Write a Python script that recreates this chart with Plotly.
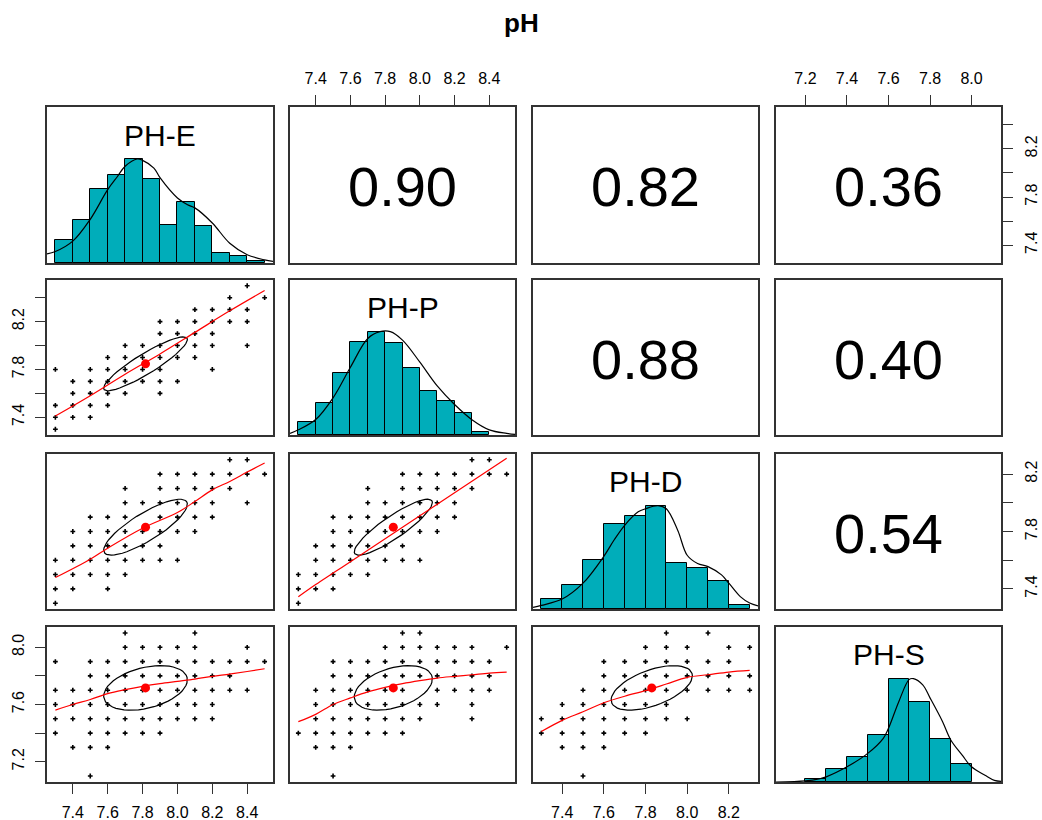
import numpy as np
import plotly.graph_objects as go

# ---------------- data ----------------
names = ["PH-E", "PH-P", "PH-D", "PH-S"]
corr_pairs = [(0, 1), (0, 2), (0, 3), (1, 2), (1, 3), (2, 3)]
corr_vals = [0.90, 0.82, 0.36, 0.88, 0.40, 0.54]
means = [7.817, 7.847, 7.830, 7.716]
sds = [0.240, 0.225, 0.195, 0.156]
ranges = [[7.252, 8.548], [7.252, 8.548], [7.26, 8.34], [7.058, 8.142]]

# histogram bins (left edges, width 0.1) and heights relative to tallest bar
hist_E_left = [7.3, 7.4, 7.5, 7.6, 7.7, 7.8, 7.9, 8.0, 8.1, 8.2, 8.3, 8.4]
hist_E_rel = [0.22, 0.41, 0.71, 0.85, 1.0, 0.81, 0.37, 0.59, 0.36, 0.10, 0.07, 0.02]
hist_P_left = [7.3, 7.4, 7.5, 7.6, 7.7, 7.8, 7.9, 8.0, 8.1, 8.2, 8.3]
hist_P_rel = [0.125, 0.31, 0.60, 0.90, 1.0, 0.895, 0.645, 0.425, 0.33, 0.21, 0.03]
hist_D_left = [7.3, 7.4, 7.5, 7.6, 7.7, 7.8, 7.9, 8.0, 8.1, 8.2]
hist_D_rel = [0.10, 0.23, 0.47, 0.82, 0.90, 1.0, 0.45, 0.40, 0.27, 0.04]
hist_S_left = [7.2, 7.3, 7.4, 7.5, 7.6, 7.7, 7.8, 7.9]
hist_S_rel = [0.026, 0.13, 0.244, 0.456, 1.0, 0.772, 0.414, 0.173]

# density curves (scaled to max 1)
dens_E_x = [7.252, 7.3, 7.4, 7.5, 7.6, 7.654, 7.7, 7.769, 7.8, 7.865, 7.9, 8.0, 8.058, 8.1, 8.2, 8.3, 8.4, 8.5, 8.548]
dens_E_y = [0.087, 0.11, 0.21, 0.42, 0.705, 0.827, 0.93, 1.0, 0.987, 0.913, 0.82, 0.625, 0.56, 0.53, 0.385, 0.19, 0.08, 0.03, 0.016]
dens_P_x = [7.252, 7.3, 7.4, 7.5, 7.6, 7.7, 7.77, 7.83, 7.9, 8.0, 8.1, 8.2, 8.3, 8.4, 8.5, 8.548]
dens_P_y = [0.016, 0.05, 0.15, 0.36, 0.656, 0.934, 1.0, 1.0, 0.918, 0.705, 0.475, 0.295, 0.148, 0.05, 0.016, 0.007]
dens_D_x = [7.26, 7.3, 7.4, 7.5, 7.6, 7.65, 7.7, 7.765, 7.8, 7.86, 7.9, 7.955, 8.0, 8.05, 8.1, 8.165, 8.2, 8.255, 8.3, 8.34]
dens_D_y = [0.016, 0.035, 0.096, 0.25, 0.51, 0.67, 0.81, 0.94, 0.97, 1.0, 0.97, 0.76, 0.52, 0.44, 0.41, 0.33, 0.25, 0.12, 0.058, 0.03]
dens_S_x = [7.058, 7.2, 7.27, 7.3, 7.4, 7.5, 7.575, 7.6, 7.65, 7.7, 7.72, 7.765, 7.8, 7.86, 7.9, 7.955, 8.0, 8.065, 8.11, 8.142]
dens_S_y = [0.0, 0.01, 0.033, 0.05, 0.147, 0.277, 0.423, 0.52, 0.78, 0.993, 1.0, 0.94, 0.814, 0.586, 0.407, 0.26, 0.147, 0.065, 0.016, 0.007]

# scatter points: {y value: [x values]}
pts_E_P = {8.5: [8.4], 8.4: [8.3, 8.5], 8.3: [8.1, 8.2, 8.3, 8.4],
           8.2: [7.9, 8.0, 8.1, 8.2, 8.3, 8.4], 8.1: [7.9, 8.0, 8.1, 8.2],
           8.0: [7.7, 7.8, 7.9, 8.0, 8.1, 8.2, 8.4], 7.9: [7.6, 7.7, 7.8, 7.9, 8.0, 8.1],
           7.8: [7.3, 7.5, 7.6, 7.7, 7.8, 7.9, 8.2], 7.7: [7.4, 7.5, 7.6, 7.7, 7.8, 7.9, 8.0],
           7.6: [7.4, 7.5, 7.6, 7.7, 7.9], 7.5: [7.3, 7.4, 7.5, 7.6], 7.4: [7.3, 7.4, 7.5], 7.3: [7.3]}
pts_E_D = {8.3: [8.3, 8.4], 8.2: [7.9, 8.0, 8.1, 8.2, 8.3, 8.4, 8.5],
           8.1: [7.7, 7.9, 8.0, 8.1, 8.2, 8.3], 8.0: [7.7, 7.8, 7.9, 8.0, 8.1, 8.2, 8.4],
           7.9: [7.5, 7.6, 7.7, 7.9, 8.0, 8.1, 8.2], 7.8: [7.4, 7.5, 7.6, 7.7, 7.8, 7.9, 8.0, 8.1],
           7.7: [7.4, 7.5, 7.6, 7.7, 7.8, 7.9], 7.6: [7.3, 7.4, 7.5, 7.6, 7.7, 7.8, 7.9, 8.0],
           7.5: [7.3, 7.4, 7.5, 7.6, 7.7], 7.4: [7.3, 7.4, 7.6], 7.3: [7.3]}
pts_E_S = {8.1: [7.7, 8.1], 8.0: [7.7, 7.8, 7.9, 8.0, 8.1, 8.4],
           7.9: [7.3, 7.5, 7.6, 7.7, 7.8, 7.9, 8.0, 8.1, 8.2, 8.3, 8.4, 8.5],
           7.8: [7.5, 7.6, 7.7, 7.8, 7.9, 8.0, 8.1, 8.2, 8.3],
           7.7: [7.3, 7.4, 7.5, 7.6, 7.7, 7.8, 7.9, 8.0, 8.1, 8.2, 8.3, 8.4],
           7.6: [7.3, 7.4, 7.5, 7.6, 7.7, 7.8, 7.9, 8.0, 8.1, 8.2],
           7.5: [7.3, 7.4, 7.5, 7.6, 7.7, 7.8, 7.9, 8.0, 8.1, 8.2],
           7.4: [7.3, 7.5, 7.6, 7.7, 7.8, 7.9], 7.3: [7.4, 7.5, 7.6], 7.1: [7.5]}
pts_P_D = {8.3: [8.3, 8.4], 8.2: [7.9, 8.0, 8.1, 8.2, 8.3, 8.4, 8.5],
           8.1: [7.7, 7.9, 8.0, 8.1, 8.2, 8.3], 8.0: [7.7, 7.8, 7.9, 8.0, 8.1, 8.2],
           7.9: [7.5, 7.6, 7.7, 7.8, 7.9, 8.0, 8.1, 8.2], 7.8: [7.5, 7.6, 7.7, 7.8, 7.9, 8.0, 8.1],
           7.7: [7.4, 7.5, 7.6, 7.7, 7.8, 7.9], 7.6: [7.4, 7.5, 7.6, 7.7, 7.8, 7.9, 8.0],
           7.5: [7.3, 7.4, 7.5, 7.6, 7.7], 7.4: [7.3, 7.4, 7.5], 7.3: [7.3]}
pts_P_S = {8.1: [7.9, 8.0], 8.0: [7.8, 7.9, 8.0, 8.1, 8.2, 8.3, 8.5],
           7.9: [7.5, 7.6, 7.7, 7.8, 7.9, 8.0, 8.1, 8.2, 8.3, 8.4],
           7.8: [7.5, 7.6, 7.7, 7.8, 7.9, 8.0, 8.1, 8.2, 8.3, 8.4],
           7.7: [7.4, 7.5, 7.6, 7.7, 7.8, 7.9, 8.1, 8.2, 8.3, 8.4],
           7.6: [7.4, 7.5, 7.6, 7.7, 7.8, 7.9, 8.0, 8.1, 8.3],
           7.5: [7.4, 7.5, 7.6, 7.7, 7.8, 7.9, 8.0, 8.3],
           7.4: [7.3, 7.4, 7.5, 7.6, 7.7, 7.8, 7.9], 7.3: [7.4, 7.5, 7.6], 7.1: [7.5]}
pts_D_S = {8.1: [7.9, 8.1], 8.0: [7.8, 7.9, 8.0, 8.2, 8.3],
           7.9: [7.6, 7.7, 7.8, 7.9, 8.0, 8.1, 8.2],
           7.8: [7.6, 7.7, 7.8, 7.9, 8.0, 8.1, 8.2, 8.3],
           7.7: [7.5, 7.6, 7.7, 7.8, 7.9, 8.0, 8.1, 8.2, 8.3],
           7.6: [7.4, 7.5, 7.6, 7.7, 7.8, 7.9],
           7.5: [7.3, 7.4, 7.5, 7.6, 7.7, 7.8, 7.9, 8.0],
           7.4: [7.3, 7.4, 7.5, 7.6, 7.7, 7.8], 7.3: [7.4, 7.5, 7.6], 7.1: [7.5]}

# loess smooths
loess_E_x = [7.3, 7.5, 7.7, 7.9, 8.1, 8.3, 8.5]
loess_E_P = [7.41, 7.58, 7.76, 7.93, 8.11, 8.29, 8.46]
loess_E_x2 = [7.3, 7.5, 7.6, 7.8, 8.0, 8.1, 8.2, 8.3, 8.4, 8.5]
loess_E_D = [7.479, 7.607, 7.684, 7.823, 7.932, 8.009, 8.09, 8.149, 8.214, 8.277]
loess_E_x3 = [7.3, 7.4, 7.5, 7.6, 7.7, 7.8, 7.9, 8.0, 8.1, 8.2, 8.3, 8.4, 8.5]
loess_E_S = [7.561, 7.6, 7.635, 7.676, 7.704, 7.727, 7.746, 7.762, 7.778, 7.797, 7.813, 7.831, 7.85]
loess_P_x = [7.3, 7.4, 7.5, 7.6, 7.7, 7.8, 7.9, 8.0, 8.1, 8.2, 8.3, 8.4, 8.5]
loess_P_D = [7.345, 7.43, 7.51, 7.59, 7.67, 7.75, 7.83, 7.91, 7.99, 8.07, 8.15, 8.23, 8.31]
loess_P_S = [7.48, 7.531, 7.6, 7.646, 7.688, 7.72, 7.746, 7.767, 7.785, 7.797, 7.808, 7.82, 7.827]
loess_D_x = [7.3, 7.4, 7.5, 7.6, 7.7, 7.8, 7.9, 8.0, 8.1, 8.2, 8.3]
loess_D_S = [7.411, 7.489, 7.549, 7.612, 7.658, 7.697, 7.743, 7.79, 7.808, 7.827, 7.838]

# tick labels
x_ticks_78 = ["7.4", "7.6", "7.8", "8.0", "8.2", "8.4"]
x_ticks_D = ["7.4", "7.6", "7.8", "8.0", "8.2"]
x_ticks_S = ["7.2", "7.4", "7.6", "7.8", "8.0"]
y_ticks_EP = ["7.4", "", "7.8", "", "8.2", ""]
y_ticks_D = ["7.4", "", "7.8", "", "8.2"]
y_ticks_S = ["7.2", "", "7.6", "", "8.0"]

# ---------------- figure ----------------
W, H = 1042, 820
FONT = "Liberation Sans, Arial, sans-serif"
HIST_COL = "#00ADBA"
BOX_COL = "#333333"
col_px = [(47, 273), (290, 515), (533, 758), (776, 1001)]
row_px = [(107, 263), (280, 435), (454, 609), (627, 782)]

hists = [(hist_E_left, hist_E_rel), (hist_P_left, hist_P_rel),
         (hist_D_left, hist_D_rel), (hist_S_left, hist_S_rel)]
dens = [(dens_E_x, dens_E_y), (dens_P_x, dens_P_y), (dens_D_x, dens_D_y), (dens_S_x, dens_S_y)]
scat = {(1, 0): (pts_E_P, loess_E_x, loess_E_P), (2, 0): (pts_E_D, loess_E_x2, loess_E_D),
        (3, 0): (pts_E_S, loess_E_x3, loess_E_S), (2, 1): (pts_P_D, loess_P_x, loess_P_D),
        (3, 1): (pts_P_S, loess_P_x, loess_P_S), (3, 2): (pts_D_S, loess_D_x, loess_D_S)}
corr = dict(zip(corr_pairs, corr_vals))

fig = go.Figure()
layout = {}
annotations = []


def refs(k):
    return ("x" if k == 1 else f"x{k}"), ("y" if k == 1 else f"y{k}")


for i in range(4):
    for j in range(4):
        k = i * 4 + j + 1
        xr, yr = refs(k)
        xa = "xaxis" if k == 1 else f"xaxis{k}"
        ya = "yaxis" if k == 1 else f"yaxis{k}"
        c0, c1 = col_px[j]
        r0, r1 = row_px[i]
        base = dict(showline=True, mirror=True, linecolor=BOX_COL, linewidth=1.6,
                    showgrid=False, zeroline=False, showticklabels=False, ticks="",
                    fixedrange=True, tickfont=dict(family=FONT, size=16, color="black"),
                    ticklen=10, tickcolor=BOX_COL, tickwidth=1.4, ticklabelstandoff=5)
        layout[xa] = dict(base, domain=[c0 / W, c1 / W], range=ranges[j], anchor=yr)
        layout[ya] = dict(base, domain=[1 - r1 / H, 1 - r0 / H],
                          range=[0, 1.5] if i == j else ranges[i], anchor=xr)

        if i == j:
            left, rel = hists[i]
            fig.add_trace(go.Bar(x=[v + 0.05 for v in left], y=rel, width=0.1,
                                 marker=dict(color=HIST_COL, line=dict(color="black", width=1)),
                                 xaxis=xr, yaxis=yr, showlegend=False, hoverinfo="skip"))
            dx, dy = dens[i]
            fig.add_trace(go.Scatter(x=dx, y=dy, mode="lines", line=dict(color="black", width=1.2, shape="spline"),
                                     xaxis=xr, yaxis=yr, showlegend=False, hoverinfo="skip"))
            annotations.append(dict(x=sum(ranges[i]) / 2, y=1.23, xref=xr, yref=yr, text=names[i],
                                    xanchor="center", yanchor="middle",
                                    showarrow=False, font=dict(family=FONT, size=30, color="black")))
        elif i < j:
            # empty trace so that the panel box and axes are drawn
            fig.add_trace(go.Scatter(x=[sum(ranges[j]) / 2], y=[sum(ranges[i]) / 2], mode="markers",
                                     marker=dict(size=1, opacity=0), xaxis=xr, yaxis=yr,
                                     showlegend=False, hoverinfo="skip"))
            annotations.append(dict(x=(c0 + c1) / 2 / W, y=1 - (r0 + r1 + 4) / 2 / H, xref="paper", yref="paper",
                                    xanchor="center", yanchor="middle",
                                    text=f"{corr[(i, j)]:.2f}", showarrow=False,
                                    font=dict(family=FONT, size=56, color="black")))
        else:
            pts, lx, ly = scat[(i, j)]
            px = [x for yv, xs in pts.items() for x in xs]
            py = [yv for yv, xs in pts.items() for x in xs]
            fig.add_trace(go.Scatter(x=px, y=py, mode="markers",
                                     marker=dict(symbol="cross", size=4, color="black", line=dict(width=0)),
                                     xaxis=xr, yaxis=yr, showlegend=False, hoverinfo="skip"))
            # correlation ellipse (1 sd) from means, sds and r
            r = corr[(j, i)]
            a = np.linspace(0, 2 * np.pi, 52)
            th = 1 / np.sqrt(2)
            ex = np.cos(a) * np.sqrt(1 + r) * th - np.sin(a) * np.sqrt(1 - r) * th
            ey = np.cos(a) * np.sqrt(1 + r) * th + np.sin(a) * np.sqrt(1 - r) * th
            fig.add_trace(go.Scatter(x=ex * sds[j] + means[j], y=ey * sds[i] + means[i], mode="lines",
                                     line=dict(color="black", width=1.2),
                                     xaxis=xr, yaxis=yr, showlegend=False, hoverinfo="skip"))
            fig.add_trace(go.Scatter(x=lx, y=ly, mode="lines", line=dict(color="red", width=1.2, shape="spline"),
                                     xaxis=xr, yaxis=yr, showlegend=False, hoverinfo="skip"))
            fig.add_trace(go.Scatter(x=[means[j]], y=[means[i]], mode="markers",
                                     marker=dict(symbol="circle", size=9, color="red"),
                                     xaxis=xr, yaxis=yr, showlegend=False, hoverinfo="skip"))


def set_ticks(ax, side, vals, text):
    layout[ax].update(side=side, ticks="outside", showticklabels=True,
                      tickvals=vals, ticktext=text)


vals78 = [float(t) for t in x_ticks_78]
set_ticks("xaxis2", "top", vals78, x_ticks_78)
set_ticks("xaxis4", "top", [float(t) for t in x_ticks_S], x_ticks_S)
set_ticks("xaxis13", "bottom", vals78, x_ticks_78)
set_ticks("xaxis15", "bottom", [float(t) for t in x_ticks_D], x_ticks_D)
set_ticks("yaxis4", "right", vals78, y_ticks_EP)
set_ticks("yaxis5", "left", vals78, y_ticks_EP)
set_ticks("yaxis12", "right", [float(t) for t in x_ticks_D], y_ticks_D)
set_ticks("yaxis13", "left", [float(t) for t in x_ticks_S], y_ticks_S)
for ax in ["yaxis4", "yaxis5", "yaxis12", "yaxis13"]:
    layout[ax]["tickangle"] = -90

annotations.append(dict(x=521 / W, y=1 - 23 / H, xref="paper", yref="paper", text="<b>pH</b>",
                        xanchor="center", yanchor="middle",
                        showarrow=False, font=dict(family=FONT, size=26, color="black")))

fig.update_layout(**layout)
fig.update_layout(width=W, height=H, autosize=False, margin=dict(l=0, r=0, t=0, b=0),
                  paper_bgcolor="white", plot_bgcolor="white", annotations=annotations,
                  showlegend=False, bargap=0)
fig.write_html("out.html")
